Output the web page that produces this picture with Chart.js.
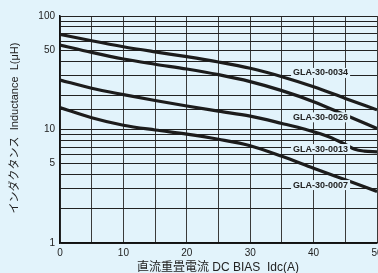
<!DOCTYPE html>
<html>
<head>
<meta charset="utf-8">
<script src="https://cdn.jsdelivr.net/npm/chart.js@4"></script>
<style>
  html, body { margin: 0; padding: 0; background: #e2f3fb; }
  #wrap { width: 378px; height: 273px; }
</style>
</head>
<body>
<div id="wrap"><canvas id="chart" width="378" height="273"></canvas></div>
<script>
// DC bias current (A)
const xs = [0, 5, 10, 15, 20, 25, 30, 35, 40, 45, 50]

// inductance (uH)
const gla0034 = [69, 60.5, 53.6, 48.3, 43.8, 39.3, 34.6, 29.2, 23.8, 18.8, 14.9]
const gla0026 = [55.5, 47.8, 41.8, 37.6, 34.1, 30.4, 26.4, 22, 17.6, 13.4, 10.2]
const gla0013x = [0, 5, 10, 15, 20, 25, 30, 35, 38.8, 42.5, 45, 46.5, 48, 50]
const gla0013 = [27.3, 23.1, 20.3, 18, 16.1, 14.5, 13.1, 11.3, 10, 8.6, 7.4, 6.7, 6.45, 6.35]
const gla0007 = [15.6, 12.7, 10.9, 9.9, 9.1, 8.2, 7.2, 5.8, 4.55, 3.6, 2.85]

const seriesNames = ["GLA-30-0034", "GLA-30-0026", "GLA-30-0013", "GLA-30-0007"]
// where each name sits, in data units (x, L)
const labelX = 41.1
const labelY = [31.5, 12.8, 6.73, 3.24]

const yLabels = [1, 5, 10, 50, 100]
const xTitle = "直流重畳電流 DC BIAS  Idc(A)"
const yTitle = "インダクタンス  Inductance  L(μH)"

const bg = "#e2f3fb"

function pts(x, y) {
    return x.map((v, i) => ({x: v, y: y[i]}))
}

function line(d) {
    return {
        data: d,
        borderColor: "#1c1c1c",
        borderWidth: 3.2,
        pointRadius: 0,
        cubicInterpolationMode: "monotone",
        fill: false
    }
}

const extras = {
    id: "extras",
    afterDatasetsDraw(chart) {
        const ctx = chart.ctx
        const sx = chart.scales.x, sy = chart.scales.y
        ctx.save()
        ctx.font = "bold 9px Arial, 'Liberation Sans'"
        ctx.textAlign = "center"
        ctx.textBaseline = "middle"
        seriesNames.forEach((name, i) => {
            const px = sx.getPixelForValue(labelX)
            const py = sy.getPixelForValue(labelY[i])
            const w = ctx.measureText(name).width + 4
            ctx.fillStyle = bg
            ctx.fillRect(px - w / 2, py - 5, w, 10)
            ctx.fillStyle = "#222"
            ctx.fillText(name, px, py)
        })
        ctx.restore()
    },
    afterDraw(chart) {
        const ctx = chart.ctx
        ctx.save()
        ctx.fillStyle = "#222"
        ctx.textAlign = "center"
        ctx.textBaseline = "middle"
        ctx.font = "12px Arial, 'Liberation Sans', 'Noto Sans CJK JP'"
        ctx.fillText(xTitle, 218, 268)
        ctx.font = "11px Arial, 'Liberation Sans', 'Noto Sans CJK JP'"
        ctx.translate(15, 128)
        ctx.rotate(-Math.PI / 2)
        ctx.fillText(yTitle, 0, 0)
        ctx.restore()
    }
}

const chart = new Chart("chart", {
    type: "line",
    data: {
        datasets: [
            line(pts(xs, gla0034)),
            line(pts(xs, gla0026)),
            line(pts(gla0013x, gla0013)),
            line(pts(xs, gla0007))
        ]
    },
    options: {
        responsive: false,
        animation: false,
        layout: {padding: {top: 16, right: 1, left: 0, bottom: 0}},
        plugins: {legend: {display: false}, tooltip: {enabled: false}},
        scales: {
            x: {
                type: "linear",
                min: 0,
                max: 50,
                afterFit: s => { s.height = 30; s.paddingLeft = 0; s.paddingRight = 0 },
                border: {color: "#111", width: 1.5},
                grid: {color: "#3a3a3a", lineWidth: 1, drawTicks: false},
                ticks: {
                    stepSize: 5,
                    padding: 4,
                    maxRotation: 0,
                    autoSkip: false,
                    color: "#222",
                    font: {family: "Arial, 'Liberation Sans'", size: 10},
                    callback: v => (v % 10 === 0 ? String(v) : "")
                }
            },
            y: {
                type: "logarithmic",
                min: 1,
                max: 100,
                afterFit: s => { s.width = 60; s.paddingTop = 0; s.paddingBottom = 0 },
                border: {color: "#111", width: 1.5},
                grid: {color: "#222", lineWidth: 1, drawTicks: false},
                ticks: {
                    padding: 5,
                    autoSkip: false,
                    color: "#222",
                    font: {family: "Arial, 'Liberation Sans'", size: 10},
                    callback: v => (yLabels.includes(v) ? String(v) : "")
                }
            }
        }
    },
    plugins: [extras]
})
</script>
</body>
</html>
